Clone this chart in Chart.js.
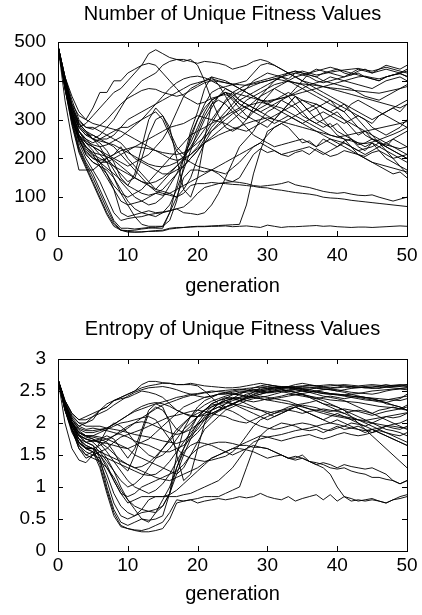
<!DOCTYPE html>
<html>
<head>
<meta charset="utf-8">
<script src="https://cdn.jsdelivr.net/npm/chart.js@4.4.1/dist/chart.umd.min.js"></script>
<style>
html,body{margin:0;padding:0;background:#fff;}
#wrap{position:relative;width:422px;height:615px;overflow:hidden;}
#c1{position:absolute;left:0;top:0;}
#c2{position:absolute;left:0;top:308px;}
#dbg{position:absolute;left:0;top:0;color:red;font:10px sans-serif;}
</style>
</head>
<body>
<div id="wrap">
<canvas id="c1" width="422" height="308"></canvas>
<canvas id="c2" width="422" height="307"></canvas>
<div id="dbg"></div>
</div>
<script>
const generations = [0,1,2,3,4,5,6,7,8,9,10,11,12,13,14,15,16,17,18,19,20,21,22,23,24,25,26,27,28,29,30,31,32,33,34,35,36,37,38,39,40,41,42,43,44,45,46,47,48,49,50];
const xTicks = [0,10,20,30,40,50];
const yTicksTop = [0,100,200,300,400,500];
const yTicksBottom = [0,0.5,1,1.5,2,2.5,3];
const titleTop = "Number of Unique Fitness Values";
const titleBottom = "Entropy of Unique Fitness Values";
const xTitle = "generation";

// Number of unique fitness values, one array per run
const u01 = [490,380,290,220,180,140,100,60,30,15,12,10,10,12,14,15,20,22,22,23,24,24,25,25,26,24,25,26,24,22,28,25,22,24,24,25,26,27,25,26,24,23,22,23,23,22,23,24,25,26,25];
const u02 = [490,385,295,225,185,150,110,70,35,15,10,10,11,12,12,13,18,20,22,24,25,25,26,27,28,29,30,80,160,220,270,280,290,280,260,240,245,230,250,240,230,245,250,235,240,250,245,230,250,240,230];
const u03 = [490,390,300,230,190,160,120,80,40,20,20,18,20,22,20,20,60,100,150,170,170,165,170,160,145,140,150,180,210,225,215,220,210,205,215,220,210,225,215,205,210,220,215,210,205,215,220,210,200,205,210];
const u04 = [490,380,285,215,175,135,95,55,25,15,14,15,18,20,22,25,60,130,200,270,320,380,410,390,360,330,310,300,320,340,360,380,370,360,340,320,300,290,280,290,270,260,250,240,230,240,220,200,190,180,170];
const u05 = [490,395,310,240,200,170,140,100,60,40,45,48,50,55,58,60,65,70,60,58,55,60,80,110,150,190,230,250,270,300,320,330,350,340,360,340,320,330,300,280,260,250,230,210,200,190,180,170,160,165,150];
const u06 = [490,400,320,260,230,210,180,150,120,90,80,85,90,100,110,105,110,100,110,130,135,135,138,136,135,133,132,130,128,125,124,120,118,115,112,110,108,105,100,98,97,95,92,90,88,86,84,82,80,78,76];
const u07 = [490,390,310,250,210,190,180,160,120,60,50,55,60,65,60,62,65,70,75,90,110,125,130,135,138,140,138,135,130,128,130,132,135,140,132,128,125,120,115,112,110,112,108,105,104,106,100,95,90,95,100];
const u08 = [490,350,250,170,170,170,185,200,210,230,200,180,160,140,120,140,160,180,200,230,260,300,330,360,380,370,350,340,330,320,310,300,320,340,330,310,300,290,300,310,320,300,280,260,270,250,240,230,220,210,200];
const u09 = [490,400,320,280,290,310,330,350,370,380,400,420,440,470,480,470,460,455,450,455,440,400,350,310,280,270,280,300,330,360,380,400,410,405,420,415,410,400,395,400,405,410,415,420,410,405,400,410,415,420,410];
const u10 = [490,410,330,280,260,250,260,280,300,330,360,380,400,410,420,440,450,455,455,450,445,450,448,445,440,430,435,440,450,455,450,440,430,420,425,420,415,410,420,425,430,420,415,425,430,420,425,430,425,420,430];
const u11 = [490,400,340,310,300,330,370,370,400,400,420,430,440,445,440,420,400,380,360,350,340,345,355,360,370,365,350,340,330,320,330,340,350,360,380,400,420,430,425,420,415,410,420,430,425,420,430,440,435,430,440];
const u12 = [490,390,300,260,240,230,220,200,180,160,140,150,200,260,300,310,280,200,120,100,150,250,340,360,370,350,330,310,300,290,280,300,320,340,360,340,320,300,290,280,290,270,250,230,220,240,230,220,210,200,190];
const u13 = [490,380,300,260,240,230,210,190,150,110,80,50,30,25,25,25,40,90,180,260,300,330,350,360,370,360,340,330,320,330,340,350,360,370,360,350,340,330,340,350,330,320,340,350,340,330,320,310,300,290,280];
const u14 = [490,410,340,290,270,250,240,220,190,150,130,160,230,300,330,310,270,230,210,240,280,320,350,360,365,355,340,330,320,310,300,290,300,310,300,290,300,310,320,310,300,290,300,310,300,290,310,320,330,320,340];
const u15 = [490,400,320,280,260,260,250,240,230,210,190,170,150,130,115,110,105,100,120,150,200,240,270,290,310,330,350,360,370,380,390,400,410,420,425,420,415,410,400,395,390,385,380,370,360,355,350,360,370,380,390];
const u16 = [490,400,310,270,250,240,250,260,270,280,280,290,300,310,320,300,260,220,200,190,180,175,170,165,160,175,190,210,230,240,260,280,290,300,310,320,330,340,330,320,310,300,290,280,270,260,250,240,230,220,210];
const u17 = [490,390,310,270,250,230,220,210,200,190,180,190,200,210,230,250,280,320,360,380,390,400,405,400,395,390,380,370,360,350,345,350,355,360,370,380,390,395,400,410,405,400,395,390,385,380,390,400,405,410,400];
const u18 = [490,400,330,290,270,250,230,200,170,140,120,100,90,80,85,100,130,160,200,250,300,340,370,380,385,390,395,400,420,440,445,440,430,420,410,400,390,380,370,360,350,340,320,300,280,260,240,220,200,180,160];
const u19 = [490,380,300,250,220,200,190,190,200,210,220,230,240,250,260,270,280,285,290,300,310,305,300,295,290,280,275,270,280,290,300,310,320,330,340,350,345,340,330,320,330,340,330,320,310,300,310,320,330,340,350];
const u20 = [490,390,310,260,230,210,200,190,180,170,160,150,140,130,120,115,110,120,130,140,150,160,170,180,190,200,210,220,230,240,230,220,210,215,220,225,230,220,210,220,230,240,230,220,225,230,240,235,230,225,230];
const u21 = [490,400,320,270,240,220,190,160,130,110,100,110,120,140,160,180,200,220,240,260,270,280,290,300,310,320,330,350,360,370,380,390,395,400,390,380,370,360,350,340,330,320,300,280,260,250,240,230,220,210,200];
const u22 = [490,410,350,300,280,280,270,260,250,240,220,200,190,180,170,160,160,170,180,200,220,250,280,300,320,340,360,380,400,410,420,415,410,400,395,390,380,370,360,350,340,330,320,310,300,280,270,260,270,280,300];
const u23 = [490,400,310,250,210,190,180,170,150,120,90,70,60,55,50,60,80,120,170,220,270,310,340,350,340,320,300,280,260,250,240,230,235,240,245,250,240,230,240,250,245,240,230,220,210,220,230,240,250,260,270];
const u24 = [490,395,330,290,270,260,250,250,260,280,300,310,320,330,340,350,360,370,380,390,395,400,410,405,400,390,380,370,360,350,340,330,320,310,300,290,280,270,260,250,240,230,220,210,200,190,185,180,175,170,165];
const u25 = [490,385,305,255,225,205,190,175,160,145,130,120,110,105,110,120,140,160,180,200,220,240,255,270,285,300,315,330,345,360,370,380,390,400,410,415,420,425,430,435,430,425,420,415,410,405,400,410,415,420,425];
const u26 = [490,410,360,320,300,290,285,280,275,270,260,250,240,230,220,210,200,195,200,210,230,260,290,320,350,370,380,390,395,400,405,410,415,420,410,400,395,390,385,380,375,370,365,360,355,350,345,340,335,330,340];
const u27 = [490,405,335,295,280,275,285,300,320,340,355,365,375,380,378,370,365,360,365,375,385,395,400,398,395,392,390,388,392,396,400,405,410,415,420,425,420,415,418,422,425,428,430,432,428,425,430,435,430,425,420];
const u28 = [490,395,315,270,245,235,230,235,245,255,270,285,300,320,340,360,380,395,405,410,412,408,400,390,380,370,365,360,355,350,348,352,355,360,365,370,375,380,385,390,395,400,405,410,412,408,405,410,415,418,412];
const u29 = [490,385,300,245,215,200,195,200,210,220,225,230,228,225,220,215,212,210,215,225,240,255,270,285,300,315,325,335,340,345,340,335,330,320,310,300,290,280,270,260,255,250,245,240,238,242,248,255,262,270,280];
const u30 = [490,390,305,255,230,215,210,205,195,180,165,150,140,135,140,150,165,180,195,210,225,240,250,260,268,275,282,290,296,300,305,300,295,290,285,280,275,270,265,260,255,258,262,266,270,274,278,282,286,290,295];
const u31 = [490,400,325,285,265,250,245,240,235,225,215,205,195,185,180,178,182,190,205,225,250,275,300,325,345,360,372,380,388,395,400,405,402,398,395,392,390,388,385,382,380,378,376,374,372,370,368,372,376,380,385];

// Entropy of unique fitness values, one array per run
const e01 = [2.68,2.3,2.0,1.75,1.6,1.55,1.3,0.9,0.55,0.38,0.35,0.32,0.3,0.3,0.32,0.35,0.5,0.75,0.78,0.8,0.75,0.78,0.8,0.82,0.8,0.82,0.85,0.83,0.85,0.9,0.85,0.82,0.8,0.85,0.78,0.82,0.85,0.88,0.8,0.88,0.78,0.85,0.82,0.78,0.8,0.82,0.78,0.75,0.8,0.85,0.88];
const e02 = [2.68,2.25,1.95,1.7,1.62,1.6,1.35,0.95,0.6,0.4,0.35,0.33,0.32,0.35,0.4,0.45,0.6,0.8,0.78,0.8,0.82,0.85,0.85,0.85,0.9,0.95,1.0,1.3,1.6,1.8,1.9,1.95,2.0,1.98,1.95,1.9,1.88,1.9,1.85,1.9,1.95,1.9,1.92,1.95,1.9,1.85,1.9,1.95,1.92,1.9,1.95];
const e03 = [2.68,2.2,1.9,1.6,1.5,1.55,1.4,1.1,0.75,0.55,0.5,0.55,0.6,0.62,0.65,0.7,0.9,1.3,1.55,1.65,1.7,1.68,1.65,1.6,1.55,1.5,1.55,1.6,1.65,1.62,1.6,1.55,1.5,1.45,1.48,1.45,1.4,1.35,1.38,1.35,1.3,1.35,1.32,1.3,1.28,1.3,1.25,1.2,1.1,1.05,1.1];
const e04 = [2.68,2.3,2.0,1.8,1.7,1.65,1.45,1.0,0.65,0.45,0.4,0.45,0.5,0.48,0.5,0.55,0.9,1.5,1.9,2.1,2.25,2.35,2.4,2.45,2.45,2.48,2.5,2.5,2.52,2.5,2.48,2.5,2.52,2.5,2.48,2.45,2.4,2.35,2.3,2.25,2.2,2.15,2.1,2.05,2.0,1.95,1.9,1.85,1.8,1.75,1.7];
const e05 = [2.68,2.25,1.9,1.6,1.45,1.5,1.45,1.2,0.9,0.7,0.6,0.55,0.65,0.8,0.85,0.85,0.85,0.85,0.88,0.9,0.95,1.0,1.05,1.1,1.2,1.3,1.45,1.6,1.7,1.75,1.78,1.8,1.82,1.85,1.88,1.9,1.92,1.95,1.9,1.88,1.92,1.95,2.0,1.98,1.95,2.0,2.05,2.1,2.08,2.1,2.15];
const e06 = [2.68,2.2,1.9,1.7,1.6,1.6,1.5,1.3,1.1,0.9,0.85,0.9,1.0,1.05,1.1,1.15,1.2,1.25,1.35,1.5,1.6,1.65,1.68,1.7,1.7,1.68,1.65,1.65,1.62,1.62,1.6,1.55,1.5,1.45,1.42,1.45,1.4,1.38,1.35,1.3,1.28,1.3,1.25,1.22,1.2,1.15,1.15,1.12,1.1,1.05,1.1];
const e07 = [2.68,2.25,1.95,1.75,1.65,1.6,1.5,1.35,1.1,0.9,0.75,0.8,0.85,0.85,0.85,0.85,0.88,0.95,1.05,1.15,1.25,1.35,1.45,1.5,1.55,1.6,1.6,1.58,1.55,1.5,1.45,1.48,1.5,1.45,1.45,1.5,1.4,1.35,1.3,1.2,1.0,0.85,0.78,0.8,0.78,0.8,0.78,0.75,0.8,0.82,0.85];
const e08 = [2.68,2.0,1.6,1.42,1.38,1.5,1.7,1.9,2.0,1.95,1.85,1.7,1.6,1.5,1.45,1.5,1.6,1.75,1.9,2.0,2.1,2.2,2.3,2.35,2.4,2.38,2.35,2.3,2.25,2.2,2.15,2.1,2.15,2.2,2.25,2.2,2.15,2.1,2.05,2.1,2.15,2.1,2.05,2.0,1.95,1.9,1.85,1.8,1.75,1.7,1.65];
const e09 = [2.68,2.3,2.05,1.95,2.0,2.1,2.2,2.3,2.35,2.4,2.45,2.5,2.6,2.65,2.65,2.63,2.62,2.6,2.6,2.6,2.58,2.5,2.4,2.3,2.25,2.28,2.35,2.4,2.45,2.5,2.52,2.55,2.55,2.57,2.56,2.55,2.55,2.56,2.55,2.54,2.55,2.56,2.55,2.56,2.57,2.58,2.57,2.56,2.57,2.58,2.57];
const e10 = [2.68,2.35,2.15,2.05,2.1,2.15,2.2,2.25,2.35,2.4,2.45,2.5,2.55,2.58,2.6,2.62,2.62,2.6,2.6,2.62,2.6,2.58,2.57,2.56,2.55,2.55,2.56,2.58,2.6,2.62,2.6,2.58,2.56,2.57,2.6,2.62,2.6,2.58,2.56,2.55,2.56,2.58,2.57,2.56,2.55,2.56,2.58,2.6,2.58,2.57,2.6];
const e11 = [2.68,2.3,2.1,2.0,2.0,2.05,2.2,2.25,2.35,2.38,2.4,2.45,2.5,2.48,2.45,2.4,2.3,2.2,2.15,2.1,2.1,2.15,2.2,2.25,2.3,2.35,2.38,2.4,2.42,2.45,2.48,2.5,2.52,2.5,2.48,2.5,2.52,2.55,2.53,2.52,2.5,2.52,2.54,2.55,2.56,2.55,2.54,2.56,2.55,2.54,2.55];
const e12 = [2.68,2.2,1.9,1.75,1.7,1.72,1.75,1.8,1.75,1.6,1.45,1.6,1.9,2.2,2.3,2.25,2.0,1.5,1.1,1.2,1.6,2.0,2.2,2.3,2.35,2.3,2.25,2.2,2.15,2.1,2.05,2.1,2.15,2.2,2.25,2.2,2.15,2.1,2.05,2.0,2.05,2.0,1.95,1.9,1.85,1.9,1.85,1.8,1.75,1.7,1.65];
const e13 = [2.68,2.25,1.95,1.8,1.75,1.7,1.6,1.45,1.25,1.0,0.8,0.65,0.5,0.45,0.6,0.8,1.0,1.3,1.6,1.9,2.1,2.2,2.3,2.35,2.38,2.4,2.38,2.35,2.33,2.35,2.38,2.4,2.42,2.45,2.44,2.42,2.4,2.38,2.4,2.42,2.4,2.38,2.4,2.42,2.4,2.38,2.35,2.3,2.28,2.25,2.2];
const e14 = [2.68,2.3,2.0,1.85,1.8,1.78,1.75,1.7,1.55,1.35,1.25,1.5,1.85,2.15,2.25,2.2,2.05,1.9,1.85,1.95,2.1,2.2,2.28,2.3,2.32,2.3,2.28,2.25,2.22,2.2,2.18,2.15,2.18,2.2,2.18,2.15,2.18,2.2,2.22,2.2,2.18,2.15,2.18,2.2,2.18,2.15,2.2,2.22,2.25,2.22,2.28];
const e15 = [2.68,2.25,2.0,1.85,1.8,1.8,1.78,1.75,1.7,1.65,1.6,1.5,1.45,1.4,1.35,1.3,1.25,1.2,1.3,1.5,1.7,1.9,2.0,2.1,2.2,2.25,2.3,2.35,2.38,2.4,2.42,2.45,2.48,2.5,2.52,2.5,2.48,2.5,2.48,2.46,2.45,2.44,2.42,2.4,2.38,2.36,2.35,2.36,2.38,2.4,2.42];
const e16 = [2.68,2.3,2.0,1.85,1.8,1.8,1.85,1.9,1.95,2.0,2.02,2.05,2.08,2.1,2.05,1.9,1.75,1.6,1.5,1.45,1.42,1.4,1.42,1.45,1.48,1.55,1.65,1.8,1.95,2.05,2.1,2.15,2.2,2.25,2.28,2.3,2.32,2.35,2.3,2.28,2.25,2.2,2.15,2.1,2.05,2.0,1.95,1.9,1.88,1.85,1.8];
const e17 = [2.68,2.25,1.95,1.8,1.75,1.72,1.7,1.68,1.65,1.62,1.6,1.65,1.7,1.75,1.85,1.95,2.05,2.15,2.25,2.3,2.35,2.4,2.42,2.45,2.46,2.45,2.44,2.42,2.4,2.38,2.36,2.38,2.4,2.42,2.44,2.46,2.48,2.5,2.52,2.53,2.52,2.5,2.48,2.47,2.46,2.45,2.47,2.5,2.52,2.53,2.52];
const e18 = [2.68,2.3,2.02,1.88,1.8,1.75,1.68,1.55,1.4,1.25,1.1,1.0,0.95,0.9,0.95,1.05,1.2,1.4,1.6,1.8,2.0,2.15,2.25,2.3,2.35,2.38,2.4,2.42,2.48,2.55,2.56,2.55,2.53,2.5,2.48,2.45,2.42,2.38,2.35,2.3,2.25,2.2,2.1,2.0,1.9,1.8,1.7,1.6,1.5,1.4,1.3];
const e19 = [2.68,2.2,1.85,1.65,1.55,1.5,1.55,1.6,1.7,1.78,1.82,1.86,1.9,1.95,2.0,2.05,2.1,2.12,2.15,2.18,2.2,2.18,2.15,2.12,2.1,2.05,2.02,2.0,2.05,2.1,2.15,2.18,2.2,2.22,2.25,2.28,2.26,2.24,2.2,2.18,2.2,2.22,2.2,2.18,2.15,2.12,2.15,2.18,2.2,2.22,2.25];
const e20 = [2.68,2.25,1.95,1.75,1.65,1.6,1.55,1.5,1.45,1.4,1.35,1.3,1.25,1.2,1.15,1.12,1.1,1.15,1.2,1.25,1.3,1.38,1.45,1.5,1.55,1.6,1.65,1.7,1.75,1.8,1.78,1.75,1.72,1.75,1.78,1.8,1.82,1.78,1.75,1.78,1.82,1.85,1.82,1.8,1.82,1.85,1.88,1.85,1.82,1.8,1.85];
const e21 = [2.68,2.3,2.0,1.8,1.7,1.65,1.55,1.4,1.25,1.1,1.0,1.05,1.15,1.3,1.45,1.6,1.75,1.9,2.0,2.1,2.15,2.2,2.25,2.3,2.35,2.38,2.4,2.45,2.48,2.5,2.52,2.53,2.54,2.55,2.52,2.5,2.48,2.45,2.42,2.4,2.38,2.35,2.3,2.25,2.2,2.15,2.1,2.05,2.0,1.95,1.9];
const e22 = [2.68,2.32,2.08,1.95,1.9,1.92,1.9,1.88,1.85,1.82,1.78,1.72,1.68,1.65,1.6,1.55,1.55,1.6,1.65,1.75,1.85,1.98,2.1,2.2,2.3,2.38,2.45,2.5,2.55,2.58,2.6,2.58,2.56,2.55,2.54,2.52,2.5,2.48,2.46,2.45,2.44,2.42,2.4,2.38,2.36,2.35,2.33,2.32,2.35,2.38,2.45];
const e23 = [2.68,2.25,1.9,1.65,1.5,1.45,1.4,1.3,1.15,0.95,0.8,0.7,0.65,0.62,0.6,0.7,0.9,1.2,1.5,1.75,1.95,2.1,2.2,2.25,2.22,2.18,2.12,2.05,2.0,1.95,1.92,1.9,1.92,1.95,1.98,2.0,1.98,1.95,1.98,2.0,1.98,1.95,1.92,1.9,1.88,1.9,1.92,1.95,1.98,2.0,2.05];
const e24 = [2.68,2.3,2.05,1.92,1.88,1.88,1.9,1.92,1.98,2.05,2.12,2.18,2.22,2.26,2.3,2.33,2.36,2.4,2.42,2.45,2.46,2.48,2.5,2.49,2.48,2.46,2.44,2.42,2.4,2.38,2.36,2.34,2.32,2.3,2.28,2.25,2.22,2.2,2.18,2.15,2.12,2.1,2.08,2.05,2.02,2.0,1.98,1.96,1.95,1.93,1.92];
const e25 = [2.68,2.22,1.9,1.7,1.6,1.55,1.5,1.45,1.4,1.35,1.3,1.25,1.2,1.18,1.2,1.28,1.4,1.55,1.7,1.85,1.98,2.08,2.15,2.2,2.25,2.3,2.35,2.4,2.44,2.48,2.5,2.52,2.54,2.55,2.56,2.57,2.58,2.58,2.59,2.6,2.59,2.58,2.57,2.56,2.55,2.54,2.55,2.57,2.58,2.59,2.6];
const e26 = [2.68,2.35,2.12,2.0,1.95,1.95,1.95,1.92,1.9,1.88,1.85,1.82,1.8,1.78,1.75,1.72,1.7,1.68,1.72,1.8,1.9,2.05,2.2,2.3,2.38,2.44,2.48,2.5,2.52,2.53,2.54,2.55,2.56,2.57,2.55,2.53,2.5,2.48,2.46,2.45,2.44,2.43,2.42,2.41,2.4,2.39,2.38,2.37,2.36,2.35,2.38];
const e27 = [2.68,2.35,2.15,2.05,2.05,2.1,2.15,2.2,2.28,2.35,2.42,2.48,2.52,2.55,2.56,2.57,2.55,2.52,2.48,2.45,2.42,2.4,2.42,2.45,2.48,2.5,2.52,2.54,2.55,2.56,2.57,2.58,2.57,2.56,2.57,2.58,2.59,2.58,2.57,2.58,2.59,2.6,2.59,2.58,2.59,2.6,2.59,2.58,2.59,2.6,2.59];
const e28 = [2.68,2.28,1.98,1.82,1.75,1.72,1.72,1.75,1.8,1.85,1.92,2.0,2.08,2.15,2.22,2.28,2.32,2.36,2.4,2.43,2.45,2.47,2.48,2.5,2.51,2.52,2.53,2.52,2.5,2.48,2.47,2.48,2.5,2.52,2.53,2.54,2.55,2.54,2.53,2.52,2.5,2.48,2.45,2.42,2.4,2.38,2.35,2.32,2.28,2.25,2.2];
const e29 = [2.68,2.22,1.88,1.68,1.6,1.6,1.65,1.72,1.8,1.88,1.95,2.0,2.02,2.0,1.95,1.9,1.85,1.82,1.85,1.9,1.98,2.05,2.12,2.18,2.24,2.3,2.35,2.38,2.4,2.42,2.4,2.38,2.36,2.34,2.3,2.26,2.22,2.18,2.15,2.12,2.1,2.08,2.06,2.05,2.04,2.06,2.08,2.1,2.12,2.14,2.16];
const e30 = [2.68,2.3,2.02,1.85,1.78,1.75,1.7,1.62,1.52,1.42,1.35,1.3,1.32,1.38,1.48,1.6,1.72,1.85,1.98,2.1,2.2,2.28,2.34,2.38,2.42,2.45,2.47,2.48,2.5,2.52,2.54,2.55,2.56,2.55,2.54,2.53,2.52,2.5,2.48,2.46,2.45,2.44,2.45,2.46,2.48,2.5,2.51,2.52,2.53,2.54,2.55];
const e31 = [2.68,2.32,2.05,1.9,1.85,1.85,1.88,1.92,1.98,2.05,2.12,2.2,2.26,2.3,2.32,2.3,2.26,2.2,2.15,2.12,2.1,2.12,2.15,2.2,2.25,2.3,2.34,2.38,2.42,2.45,2.48,2.5,2.49,2.47,2.45,2.44,2.42,2.4,2.38,2.36,2.35,2.34,2.33,2.32,2.3,2.28,2.26,2.25,2.24,2.22,2.2];

const uniqueRuns = [u01,u02,u03,u04,u05,u06,u07,u08,u09,u10,u11,u12,u13,u14,u15,u16,u17,u18,u19,u20,u21,u22,u23,u24,u25,u26,u27,u28,u29,u30,u31];
const entropyRuns = [e01,e02,e03,e04,e05,e06,e07,e08,e09,e10,e11,e12,e13,e14,e15,e16,e17,e18,e19,e20,e21,e22,e23,e24,e25,e26,e27,e28,e29,e30,e31];

const bad = [];
uniqueRuns.forEach((r,i)=>{ if(r.length!==generations.length) bad.push('u'+(i+1)+':'+r.length); });
entropyRuns.forEach((r,i)=>{ if(r.length!==generations.length) bad.push('e'+(i+1)+':'+r.length); });
if (bad.length) document.getElementById('dbg').textContent = bad.join(' ');

const FONT = '"Liberation Sans", Arial, Helvetica, sans-serif';

const frameTicks = {
  id: 'frameTicks',
  afterDatasetsDraw(chart) {
    const {ctx, chartArea: a, scales: {x, y}} = chart;
    const L = 5;
    ctx.save();
    ctx.strokeStyle = '#000';
    ctx.lineWidth = 1;
    ctx.beginPath();
    x.ticks.forEach(t => {
      const px = Math.round(x.getPixelForValue(t.value)) + 0.5;
      ctx.moveTo(px, a.bottom); ctx.lineTo(px, a.bottom - L);
      ctx.moveTo(px, a.top); ctx.lineTo(px, a.top + L);
    });
    y.ticks.forEach(t => {
      const py = Math.round(y.getPixelForValue(t.value)) + 0.5;
      ctx.moveTo(a.left, py); ctx.lineTo(a.left + L, py);
      ctx.moveTo(a.right, py); ctx.lineTo(a.right - L, py);
    });
    ctx.stroke();
    ctx.strokeRect(Math.round(a.left) + 0.5, Math.round(a.top) + 0.5, Math.round(a.right - a.left), Math.round(a.bottom - a.top));
    ctx.restore();
  }
};

function makeChart(id, runs, yTicks, title, titlePad, cfg) {
  const datasets = runs.map(r => ({
    data: r.map((v, i) => ({x: generations[i], y: v})),
    borderColor: 'rgba(0,0,0,0.92)',
    borderWidth: 1,
    pointRadius: 0,
    tension: 0,
    fill: false
  }));
  return new Chart(document.getElementById(id), {
    type: 'line',
    data: {datasets},
    plugins: [frameTicks],
    options: {
      responsive: false,
      animation: false,
      events: [],
      layout: {padding: {left: 0, right: 15, top: 0, bottom: cfg.padBottom}},
      plugins: {
        legend: {display: false},
        tooltip: {enabled: false},
        title: {
          display: true,
          fullSize: false,
          text: title,
          color: '#000',
          font: {family: FONT, size: 20, weight: 'normal'},
          padding: titlePad
        }
      },
      scales: {
        x: {
          type: 'linear',
          min: xTicks[0],
          max: xTicks[xTicks.length - 1],
          afterBuildTicks: s => { s.ticks = xTicks.map(v => ({value: v})); },
          afterFit: s => { s.height = cfg.axisHeight; s.paddingLeft = 0; s.paddingRight = 12; },
          grid: {display: false, drawTicks: false},
          border: {display: false},
          ticks: {color: '#000', font: {family: FONT, size: 19}, padding: cfg.tickPad, maxRotation: 0, autoSkip: false},
          title: {display: true, text: xTitle, color: '#000', font: {family: FONT, size: 20}, padding: {top: 0, bottom: cfg.titleBottom}}
        },
        y: {
          type: 'linear',
          min: yTicks[0],
          max: yTicks[yTicks.length - 1],
          afterBuildTicks: s => { s.ticks = yTicks.map(v => ({value: v})); },
          afterFit: s => { s.width = 58; },
          grid: {display: false, drawTicks: false},
          border: {display: false},
          ticks: {color: '#000', font: {family: FONT, size: 19}, padding: 12, autoSkip: false, callback: v => String(v)}
        }
      }
    }
  });
}

makeChart('c1', uniqueRuns, yTicksTop, titleTop, {top: 2, bottom: 16},
  {padBottom: 6, axisHeight: 66, tickPad: 8.6, titleBottom: 4});
makeChart('c2', entropyRuns, yTicksBottom, titleBottom, {top: 9, bottom: 18},
  {padBottom: 6, axisHeight: 58, tickPad: 3.6, titleBottom: 3});
</script>
</body>
</html>
